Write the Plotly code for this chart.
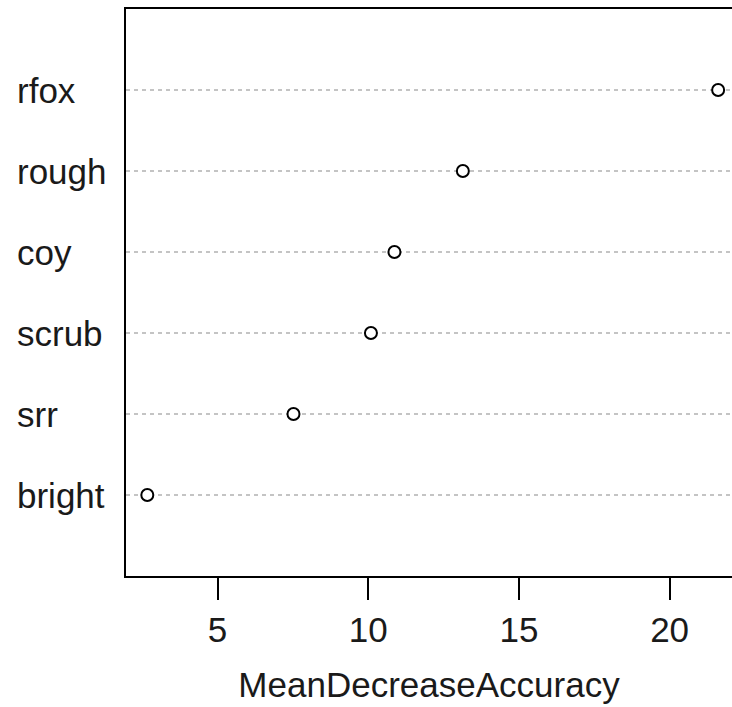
import plotly.graph_objects as go

# Data (bottom to top, as in the dotchart)
variables = ["bright", "srr", "scrub", "coy", "rough", "rfox"]
mean_decrease_accuracy = [2.67, 7.52, 10.09, 10.87, 13.14, 21.61]
x_tick_values = [5, 10, 15, 20]
x_title = "MeanDecreaseAccuracy"

positions = list(range(1, len(variables) + 1))
FONT = "Liberation Sans, Arial, sans-serif"

fig = go.Figure()
fig.add_trace(go.Scatter(
    x=mean_decrease_accuracy,
    y=positions,
    mode="markers",
    marker=dict(symbol="circle", size=12, color="white",
                line=dict(color="black", width=2)),
    showlegend=False,
    hoverinfo="x+text",
    text=variables,
))

# Left-aligned row labels (like R's dotchart)
for pos, name in zip(positions, variables):
    fig.add_annotation(
        x=-0.182, xref="paper", y=pos, yref="y",
        text=name, showarrow=False, xanchor="left", yanchor="middle",
        font=dict(family=FONT, size=35, color="#1a1a1a"),
        borderpad=0,
    )

fig.update_layout(
    width=732, height=707,
    margin=dict(l=126, r=0, t=9, b=131, pad=0),
    paper_bgcolor="white", plot_bgcolor="white",
    font=dict(family=FONT, size=35, color="#1a1a1a"),
    xaxis=dict(
        range=[1.963, 22.07],
        tickvals=x_tick_values,
        ticktext=[str(v) for v in x_tick_values],
        ticks="outside", ticklen=22, tickwidth=2, tickcolor="black",
        showline=True, linecolor="black", linewidth=2, mirror=True,
        showgrid=False, zeroline=False,
        tickfont=dict(family=FONT, size=35, color="#1a1a1a"),
        title=dict(text=x_title, standoff=24,
                   font=dict(family=FONT, size=35, color="#1a1a1a")),
    ),
    yaxis=dict(
        range=[0, 7],
        tickvals=positions,
        showticklabels=False,
        ticks="",
        showline=True, linecolor="black", linewidth=2, mirror=False,
        showgrid=True, gridcolor="#c4c4c4", gridwidth=1.5,
        griddash="4px,4px",
        zeroline=False,
    ),
)

fig.write_html("out.html")
